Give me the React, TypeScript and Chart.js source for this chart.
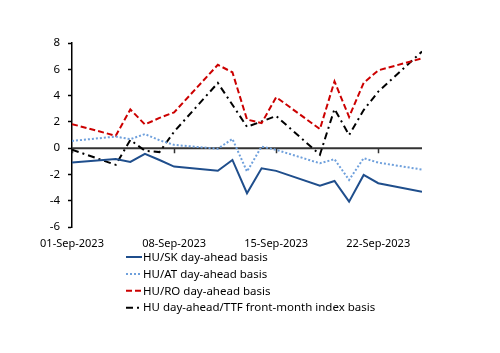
import { useEffect, useRef } from 'react';
import { Chart, registerables } from 'chart.js';

Chart.register(...registerables);

// Business days of September 2023 (day of month)
const dayNumbers = [1, 4, 5, 6, 7, 8, 11, 12, 13, 14, 15, 18, 19, 20, 21, 22, 25];

const tickDays = [1, 8, 15, 22];
const tickLabels = ['01-Sep-2023', '08-Sep-2023', '15-Sep-2023', '22-Sep-2023'];

const seriesNames = [
  'HU/SK day-ahead basis',
  'HU/AT day-ahead basis',
  'HU/RO day-ahead basis',
  'HU day-ahead/TTF front-month index basis',
];

const huSk = [-1.1, -0.82, -1.05, -0.44, -0.9, -1.4, -1.72, -0.9, -3.43, -1.53, -1.73, -2.85, -2.5, -4.07, -2.04, -2.67, -3.31];
const huAt = [0.55, 0.88, 0.68, 1.07, 0.6, 0.25, -0.05, 0.7, -1.78, 0.12, -0.13, -1.15, -0.84, -2.42, -0.76, -1.1, -1.63];
const huRo = [1.83, 0.94, 2.95, 1.8, 2.3, 2.72, 6.34, 5.77, 2.18, 1.9, 3.88, 1.45, 5.08, 2.37, 4.97, 5.92, 6.83];
const huTtf = [-0.12, -1.27, 0.62, -0.2, -0.3, 1.25, 4.96, 3.3, 1.62, 2.03, 2.45, -0.5, 2.98, 1.0, 2.9, 4.3, 7.35];

const FONT = '"Noto Sans", "Liberation Sans", sans-serif';

const toPoints = (vals: number[]) => vals.map((v, i) => ({ x: dayNumbers[i], y: v }));

const zeroAxisPlugin = {
  id: 'zeroAxis',
  beforeDatasetsDraw(chart: any) {
    const { ctx, chartArea, scales } = chart;
    const y0 = scales.y.getPixelForValue(0);
    ctx.save();
    ctx.strokeStyle = '#333333';
    ctx.lineWidth = 2;
    ctx.beginPath();
    ctx.moveTo(chartArea.left, y0);
    ctx.lineTo(chartArea.right, y0);
    ctx.stroke();
    ctx.lineWidth = 1.5;
    ctx.beginPath();
    tickDays.forEach((d) => {
      const px = Math.round(scales.x.getPixelForValue(d)) + 0.5;
      ctx.moveTo(px, y0);
      ctx.lineTo(px, y0 + 5);
    });
    ctx.stroke();
    ctx.restore();
  },
};

const stackedLegendPlugin = {
  id: 'stackedLegend',
  afterDraw(chart: any) {
    const ctx = chart.ctx;
    ctx.save();
    chart.data.datasets.forEach((ds: any, i: number) => {
      const y = 257 + i * 16.9;
      ctx.beginPath();
      ctx.setLineDash(ds.borderDash || []);
      ctx.lineWidth = ds.borderWidth;
      ctx.strokeStyle = ds.borderColor;
      ctx.moveTo(126, y);
      ctx.lineTo(142, y);
      ctx.stroke();
      ctx.setLineDash([]);
      ctx.fillStyle = '#000';
      ctx.font = `11.5px ${FONT}`;
      ctx.textBaseline = 'middle';
      ctx.textAlign = 'left';
      ctx.fillText(ds.label, 143, y + 0.5);
    });
    ctx.restore();
  },
};

export default function App() {
  const ref = useRef<HTMLCanvasElement | null>(null);

  useEffect(() => {
    if (!ref.current) return;
    const chart = new Chart(ref.current, {
      type: 'line',
      data: {
        datasets: [
          {
            label: seriesNames[0],
            data: toPoints(huSk),
            borderColor: '#1F4E8C',
            borderWidth: 2,
            borderDash: [],
            pointRadius: 0,
            tension: 0,
          },
          {
            label: seriesNames[1],
            data: toPoints(huAt),
            borderColor: '#6FA0DC',
            borderWidth: 2,
            borderDash: [2, 2],
            pointRadius: 0,
            tension: 0,
          },
          {
            label: seriesNames[2],
            data: toPoints(huRo),
            borderColor: '#CC0000',
            borderWidth: 2,
            borderDash: [6, 3],
            pointRadius: 0,
            tension: 0,
          },
          {
            label: seriesNames[3],
            data: toPoints(huTtf),
            borderColor: '#000000',
            borderWidth: 2,
            borderDash: [7, 4, 2, 4],
            pointRadius: 0,
            tension: 0,
          },
        ],
      },
      options: {
        animation: false,
        responsive: true,
        maintainAspectRatio: false,
        layout: { padding: { top: 43, right: 78, bottom: 0, left: 0 } },
        plugins: {
          legend: { display: false },
          tooltip: { enabled: false },
        },
        scales: {
          x: {
            type: 'linear',
            min: 1,
            max: 25,
            grid: { display: false, drawTicks: false },
            border: { display: false },
            afterBuildTicks: (s: any) => {
              s.ticks = tickDays.map((v) => ({ value: v }));
            },
            afterFit: (s: any) => {
              s.height = 126;
            },
            ticks: {
              autoSkip: false,
              maxRotation: 0,
              padding: 10,
              color: '#000',
              font: { family: FONT, size: 11 },
              callback: (v: any) => {
                const i = tickDays.indexOf(Number(v));
                return i >= 0 ? tickLabels[i] : '';
              },
            },
          },
          y: {
            min: -6,
            max: 8,
            grid: {
              display: true,
              drawOnChartArea: false,
              drawTicks: true,
              tickLength: 4,
              tickColor: '#000',
              tickWidth: 1.5,
            },
            border: { display: true, color: '#000', width: 1.5 },
            afterFit: (s: any) => {
              s.width = 72;
            },
            ticks: {
              stepSize: 2,
              padding: 8,
              color: '#000',
              font: { family: FONT, size: 11.5 },
            },
          },
        },
      },
      plugins: [zeroAxisPlugin, stackedLegendPlugin],
    });
    return () => chart.destroy();
  }, []);

  return (
    <div style={{ position: 'absolute', left: 0, top: 0, width: 500, height: 353 }}>
      <canvas ref={ref} />
    </div>
  );
}
